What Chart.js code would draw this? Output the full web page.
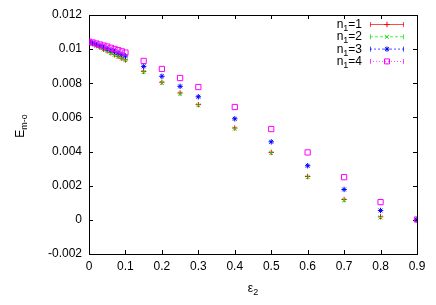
<!DOCTYPE html>
<html>
<head>
<meta charset="utf-8">
<script src="https://cdn.jsdelivr.net/npm/chart.js@4.4.1/dist/chart.umd.min.js"></script>
<style>
  body { margin: 0; background: #fff; }
  #wrap { width: 436px; height: 305px; }
</style>
</head>
<body>
<div id="wrap"><canvas id="plot" width="436" height="305"></canvas></div>
<script>
// epsilon_2 values (dense near zero, then coarser)
const eps2 = [0, 0.01, 0.02, 0.03, 0.04, 0.05, 0.06, 0.07, 0.08, 0.09, 0.1,
              0.15, 0.2, 0.25, 0.3, 0.4, 0.5, 0.6, 0.7, 0.8, 0.9];

// E_{m-o} for each n1
const n1_1 = [0.01042, 0.01032, 0.01021, 0.01011, 0.01000, 0.00990, 0.00979, 0.00968, 0.00958, 0.00947, 0.00937,
              0.00870, 0.00806, 0.00743, 0.00675, 0.00538, 0.00395, 0.00254, 0.00119, 0.00018, 0.00000];
const n1_2 = [0.01042, 0.01031, 0.01020, 0.01010, 0.00999, 0.00988, 0.00977, 0.00966, 0.00956, 0.00945, 0.00935,
              0.00866, 0.00802, 0.00739, 0.00671, 0.00534, 0.00391, 0.00250, 0.00115, 0.00014, 0.00000];
const n1_3 = [0.01043, 0.01036, 0.01028, 0.01020, 0.01012, 0.01003, 0.00995, 0.00987, 0.00978, 0.00969, 0.00960,
              0.00899, 0.00841, 0.00782, 0.00721, 0.00592, 0.00457, 0.00317, 0.00178, 0.00055, 0.00000];
const n1_4 = [0.01044, 0.01039, 0.01033, 0.01027, 0.01021, 0.01015, 0.01008, 0.01001, 0.00994, 0.00987, 0.00980,
              0.00931, 0.00884, 0.00831, 0.00778, 0.00661, 0.00532, 0.00395, 0.00250, 0.00104, 0.00002];

const seriesNames = ['1', '2', '3', '4'];
const seriesColors = ['#ff0000', '#00e000', '#0000ff', '#ff00ff'];
const seriesMarkers = ['cross', 'crossRot', 'star', 'rect'];
const seriesDash = [[], [3, 2], [2, 2], [1, 2]];
const allSeries = [n1_1, n1_2, n1_3, n1_4];

const xTicks = [0, 0.1, 0.2, 0.3, 0.4, 0.5, 0.6, 0.7, 0.8, 0.9];
const yTicks = [-0.002, 0, 0.002, 0.004, 0.006, 0.008, 0.01, 0.012];

const FONT = 'Liberation Sans, Arial, sans-serif';

const datasets = allSeries.map((vals, i) => ({
  label: 'n1=' + seriesNames[i],
  data: eps2.map((x, k) => ({ x: x, y: vals[k] })),
  showLine: false,
  pointStyle: seriesMarkers[i],
  pointRadius: seriesMarkers[i] === 'rect' ? 3.7 : 2.7,
  pointHoverRadius: 3,
  borderColor: seriesColors[i],
  backgroundColor: seriesMarkers[i] === 'rect' ? 'rgba(0,0,0,0)' : seriesColors[i],
  borderWidth: 1,
  order: 4 - i
}));

// draw a legend marker by hand
function marker(c, style, x, y, r) {
  c.beginPath();
  if (style === 'cross' || style === 'star') {
    c.moveTo(x - r, y); c.lineTo(x + r, y);
    c.moveTo(x, y - r); c.lineTo(x, y + r);
  }
  if (style === 'crossRot' || style === 'star') {
    const d = r * 0.707;
    c.moveTo(x - d, y - d); c.lineTo(x + d, y + d);
    c.moveTo(x - d, y + d); c.lineTo(x + d, y - d);
  }
  if (style === 'rect') {
    c.rect(x - 2.5, y - 2.5, 5, 5);
  }
  c.stroke();
}

const framePlugin = {
  id: 'frame',
  beforeDatasetsDraw(chart) {
    const c = chart.ctx;
    const a = chart.chartArea;
    const xs = chart.scales.x, ys = chart.scales.y;
    c.save();
    c.strokeStyle = '#000';
    c.lineWidth = 1;
    c.strokeRect(Math.round(a.left) + 0.5, Math.round(a.top) + 0.5,
                 Math.round(a.right - a.left), Math.round(a.bottom - a.top));
    c.beginPath();
    xTicks.forEach(v => {
      const px = Math.round(xs.getPixelForValue(v)) + 0.5;
      c.moveTo(px, a.bottom); c.lineTo(px, a.bottom - 4);
      c.moveTo(px, a.top); c.lineTo(px, a.top + 4);
    });
    yTicks.forEach(v => {
      const py = Math.round(ys.getPixelForValue(v)) + 0.5;
      c.moveTo(a.left, py); c.lineTo(a.left + 4, py);
      c.moveTo(a.right, py); c.lineTo(a.right - 4, py);
    });
    c.stroke();
    c.restore();
  },
  afterDraw(chart) {
    const c = chart.ctx;
    const a = chart.chartArea;
    c.save();
    c.fillStyle = '#000';
    c.textBaseline = 'alphabetic';
    c.textAlign = 'left';

    // x axis title: epsilon_2
    c.font = '12px ' + FONT;
    const wE = c.measureText('\u03b5').width;
    c.font = '9px ' + FONT;
    const w2 = c.measureText('2').width;
    const cx = (a.left + a.right) / 2;
    const sx = cx - (wE + w2) / 2;
    c.font = '12px ' + FONT;
    c.fillText('\u03b5', sx, 292);
    c.font = '9px ' + FONT;
    c.fillText('2', sx + wE, 295);

    // y axis title: E_{m-o}
    c.save();
    c.translate(24, 126);
    c.rotate(-Math.PI / 2);
    c.font = '12px ' + FONT;
    const wBig = c.measureText('E').width;
    c.font = '9px ' + FONT;
    const wSub = c.measureText('m-o').width;
    const s0 = -(wBig + wSub) / 2;
    c.font = '12px ' + FONT;
    c.fillText('E', s0, 0);
    c.font = '9px ' + FONT;
    c.fillText('m-o', s0 + wBig, 3);
    c.restore();

    // legend
    const textRight = 362;
    const lineL = 370, lineR = 404;
    seriesNames.forEach((name, i) => {
      const y = 24 + i * 12.3;
      c.font = '12px ' + FONT;
      const wn = c.measureText('n').width;
      const wr = c.measureText('=' + name).width;
      c.font = '9px ' + FONT;
      const ws = c.measureText('1').width;
      const x0 = textRight - (wn + ws + wr);
      c.fillStyle = '#000';
      c.font = '12px ' + FONT;
      c.fillText('n', x0, y + 4);
      c.font = '9px ' + FONT;
      c.fillText('1', x0 + wn, y + 7);
      c.font = '12px ' + FONT;
      c.fillText('=' + name, x0 + wn + ws, y + 4);

      c.strokeStyle = seriesColors[i];
      c.globalAlpha = 0.7;
      c.lineWidth = 1;
      c.setLineDash(seriesDash[i]);
      c.beginPath();
      c.moveTo(lineL, y + 0.5); c.lineTo(lineR, y + 0.5);
      c.stroke();
      c.setLineDash([]);
      c.beginPath();
      c.moveTo(lineL + 0.5, y - 2); c.lineTo(lineL + 0.5, y + 3);
      c.moveTo(lineR - 0.5, y - 2); c.lineTo(lineR - 0.5, y + 3);
      c.stroke();
      c.globalAlpha = 1;
      marker(c, seriesMarkers[i], (lineL + lineR) / 2, y + 0.5, 2.7);
    });
    c.restore();
  }
};

const chart = new Chart(document.getElementById('plot').getContext('2d'), {
  type: 'scatter',
  data: { datasets: datasets },
  options: {
    responsive: false,
    animation: false,
    layout: { padding: { left: 0, top: 15, right: 19, bottom: 0 } },
    plugins: { legend: { display: false }, tooltip: { enabled: false } },
    scales: {
      x: {
        type: 'linear',
        min: 0,
        max: 0.9,
        afterFit: s => { s.height = 51; },
        afterBuildTicks: s => { s.ticks = xTicks.map(v => ({ value: v })); },
        grid: { display: false, drawTicks: false },
        border: { display: false },
        ticks: {
          padding: 5,
          color: '#000',
          font: { family: FONT, size: 12 },
          maxRotation: 0,
          callback: v => String(Number(v.toFixed(1)))
        }
      },
      y: {
        type: 'linear',
        min: -0.002,
        max: 0.012,
        afterFit: s => { s.width = 89; },
        afterBuildTicks: s => { s.ticks = yTicks.map(v => ({ value: v })); },
        grid: { display: false, drawTicks: false },
        border: { display: false },
        ticks: {
          padding: 7,
          color: '#000',
          font: { family: FONT, size: 12 },
          callback: v => String(Number(v.toFixed(3)))
        }
      }
    }
  },
  plugins: [framePlugin]
});
</script>
</body>
</html>
